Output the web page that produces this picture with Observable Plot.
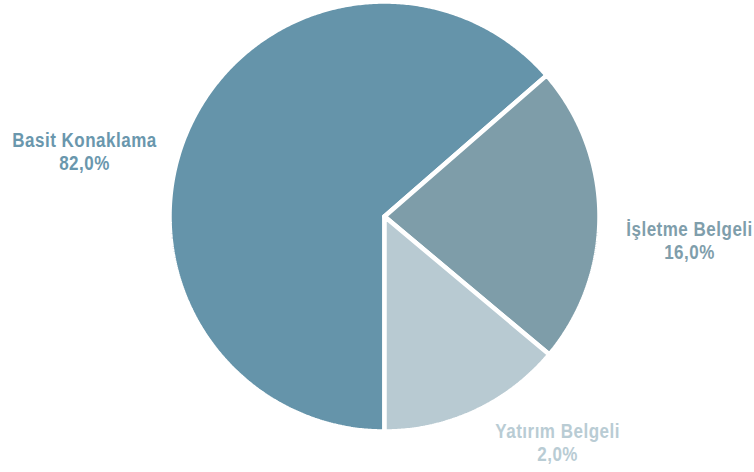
<!DOCTYPE html>
<html>
<head>
<meta charset="utf-8">
<script src="https://cdn.jsdelivr.net/npm/d3@7"></script>
<script src="https://cdn.jsdelivr.net/npm/@observablehq/plot@0.6"></script>
<style>
  html, body { margin: 0; padding: 0; background: #fff; }
  #chart svg { display: block; }
</style>
</head>
<body>
<div id="chart"></div>
<script>
// Data
const categories = ["Basit Konaklama", "İşletme Belgeli", "Yatırım Belgeli"];
const sliceShares = [63.6, 22.5, 13.9];          // drawn slice sizes (%)
const labelTexts = ["82,0%", "16,0%", "2,0%"];    // printed labels
const sliceColors = ["#6594aa", "#7e9da9", "#b8cad2"];
const labelColors = ["#6a97ad", "#7f9eab", "#b9ccd4"];

const W = 754, H = 472;
const cx = 384, cy = 216, R = 215;

// pie layout: start at bottom, clockwise
const pie = d3.pie().sort(null).value(d => d.value).startAngle(Math.PI).endAngle(3 * Math.PI);
const arcs = pie(categories.map((c, i) => ({category: c, value: sliceShares[i], i})));

// polygon outline of each slice in unit coordinates
const pts = [];
for (const a of arcs) {
  const c = a.data.category;
  pts.push({category: c, x: 0, y: 0});
  const n = Math.max(2, Math.ceil((a.endAngle - a.startAngle) / (Math.PI / 360)));
  for (let k = 0; k <= n; k++) {
    const t = a.startAngle + (a.endAngle - a.startAngle) * k / n;
    pts.push({category: c, x: Math.sin(t), y: Math.cos(t)});
  }
  pts.push({category: c, x: 0, y: 0});
}

// label placement (layout): angle shift from mid-angle (deg) and radius factor
const labelShift = [-12.2, 5, -12.5];
const labelRadius = [1.428, 1.423, 1.322];
const labels = arcs.map((a, i) => {
  const mid = (a.startAngle + a.endAngle) / 2 + labelShift[i] * Math.PI / 180;
  return {
    category: a.data.category,
    text: a.data.category + "\n" + labelTexts[i],
    x: labelRadius[i] * Math.sin(mid),
    y: labelRadius[i] * Math.cos(mid),
    color: labelColors[i]
  };
});

const chart = Plot.plot({
  width: W,
  height: H,
  margin: 0,
  x: {domain: [-1, 1], range: [cx - R, cx + R], axis: null},
  y: {domain: [-1, 1], range: [cy + R, cy - R], axis: null},
  color: {domain: categories, range: sliceColors},
  style: {background: "#fff"},
  marks: [
    Plot.line(pts, {
      x: "x", y: "y", z: "category",
      fill: "category",
      stroke: "#fff", strokeWidth: 4.5, strokeLinejoin: "miter", strokeOpacity: 1
    }),
    Plot.text(labels, {
      x: "x", y: "y", text: "text",
      fill: d => d.color,
      fontSize: 20.5, fontWeight: "bold",
      fontFamily: "'Liberation Sans', Arial, sans-serif",
      lineHeight: 1.122,
      textAnchor: "middle", lineAnchor: "middle",
      className: "pie-label"
    })
  ]
});

// condense the label glyphs horizontally around their anchor
d3.select(chart).selectAll(".pie-label text").each(function() {
  const el = d3.select(this);
  let tr = el.attr("transform");
  if (!tr) {
    const x = +el.attr("x") || 0, y = +el.attr("y") || 0;
    el.attr("x", null).attr("y", null);
    tr = `translate(${x},${y})`;
  }
  el.attr("transform", tr + " scale(0.83,1)").style("letter-spacing", "0.6px");
});

document.getElementById("chart").appendChild(chart);
</script>
</body>
</html>
